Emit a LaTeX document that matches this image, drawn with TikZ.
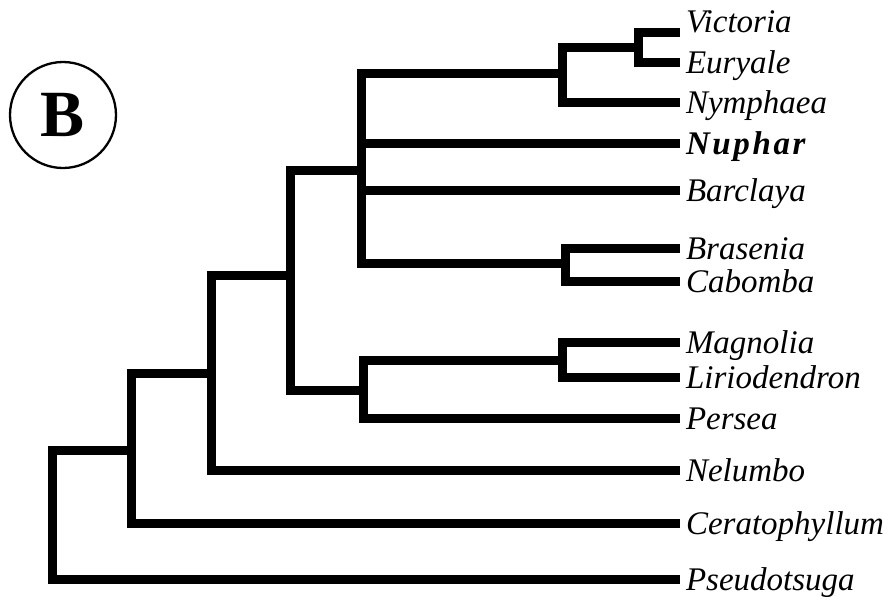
\documentclass[tikz,border=0pt]{standalone}
\usepackage{fontspec}
\setmainfont{Liberation Serif}
\tikzset{
  taxon/.style = {anchor=west, inner xsep=6pt, inner ysep=0pt, outer sep=0pt,
                  text height=22pt, text depth=0pt,
                  font=\fontsize{33}{33}\selectfont\itshape},
  branch/.style = {line width=9pt, line cap=butt, line join=miter},
  panel/.style = {draw, circle, line width=2.3pt, minimum size=106pt,
                  inner sep=0pt, font=\fontsize{66}{66}\selectfont\bfseries}
}
\begin{document}
\begin{tikzpicture}[x=1pt, y=-1pt]
            \useasboundingbox (0,0) rectangle (894,603);
            \node (lab) [panel] at (63,115) {B};

            % taxa
            \node (vic) [taxon, anchor=base west] at (680,32) {Victoria};
            \node (eur) [taxon] at (680,62) {Euryale};
            \node (nym) [taxon] at (680,102) {Nymphaea};
            \node (nup) [taxon, font=\fontsize{33}{33}\selectfont\bfseries\itshape\addfontfeature{LetterSpace=8}] at (680,143) {Nuphar};
            \node (bar) [taxon] at (680,190) {Barclaya};
            \node (bra) [taxon] at (680,248) {Brasenia};
            \node (cab) [taxon] at (680,281) {Cabomba};
            \node (mag) [taxon] at (680,342) {Magnolia};
            \node (lir) [taxon] at (680,377) {Liriodendron};
            \node (per) [taxon] at (680,418) {Persea};
            \node (nel) [taxon] at (680,470) {Nelumbo};
            \node (cer) [taxon] at (680,523) {Ceratophyllum};
            \node (pse) [taxon] at (680,579) {Pseudotsuga};

            % internal nodes
            \coordinate (ve) at (638,47);
            \coordinate (ven) at (562,73);
            \coordinate (nymph) at (361,170);
            \coordinate (cabo) at (565,263);
            \coordinate (magn) at (562,360);
            \coordinate (laur) at (363,390);
            \coordinate (angio) at (290,275);
            \coordinate (nelu) at (211,373);
            \coordinate (cera) at (131,450);
            \coordinate (root) at (52,515);

            \draw [branch] (ve) |- (vic.base west);
            \draw [branch] (ve) |- (eur.west);
            \draw [branch] (ven) |- (ve);
            \draw [branch] (ven) |- (nym.west);
            \draw [branch] (nymph) |- (ven);
            \draw [branch] (nymph) |- (nup.west);
            \draw [branch] (nymph) |- (bar.west);
            \draw [branch] (nymph) |- (cabo);
            \draw [branch] (cabo) |- (bra.west);
            \draw [branch] (cabo) |- (cab.west);
            \draw [branch] (magn) |- (mag.west);
            \draw [branch] (magn) |- (lir.west);
            \draw [branch] (laur) |- (magn);
            \draw [branch] (laur) |- (per.west);
            \draw [branch] (angio) |- (nymph);
            \draw [branch] (angio) |- (laur);
            \draw [branch] (nelu) |- (angio);
            \draw [branch] (nelu) |- (nel.west);
            \draw [branch] (cera) |- (nelu);
            \draw [branch] (cera) |- (cer.west);
            \draw [branch] (root) |- (cera);
            \draw [branch] (root) |- (pse.west);
        \end{tikzpicture}
\end{document}
